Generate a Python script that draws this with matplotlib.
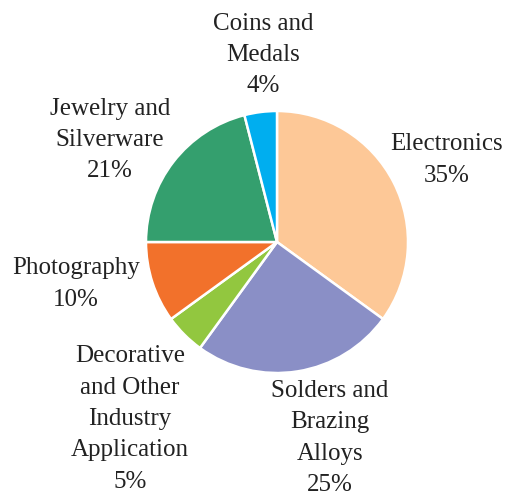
import matplotlib
matplotlib.use('Agg')
import matplotlib.pyplot as plt

# silver demand by sector
labels = ['Electronics', 'Solders and\nBrazing\nAlloys', 'Decorative\nand Other\nIndustry\nApplication',
          'Photography', 'Jewelry and\nSilverware', 'Coins and\nMedals']
shares = [35, 25, 5, 10, 21, 4]
colors = ['#FDC897', '#8A8FC6', '#92C73F', '#F2712B', '#349F6E', '#00AEEF']
# label centres in pixel coords (x, y from top)
label_pos = [(447, 160), (330, 438), (130, 419), (76, 284), (110, 140), (263, 55)]

plt.rcParams['font.family'] = ['Liberation Serif', 'DejaVu Serif']

fig = plt.figure(figsize=(5.06, 4.95), dpi=100)
ax = fig.add_axes([0, 0, 1, 1])

ax.pie(shares, colors=colors, startangle=90, counterclock=False,
       center=(277, 495 - 242), radius=131,
       wedgeprops=dict(edgecolor='white', linewidth=1.8), frame=True)
ax.set_xlim(0, 506)
ax.set_ylim(0, 495)
ax.set_aspect('equal')
ax.axis('off')

for lab, s, (x, y) in zip(labels, shares, label_pos):
    ax.text(x, 495 - y, f'{lab}\n{s}%', ha='center', va='center',
            fontsize=18, linespacing=1.55, color='#222222')

fig.savefig('out.png', dpi=100)
